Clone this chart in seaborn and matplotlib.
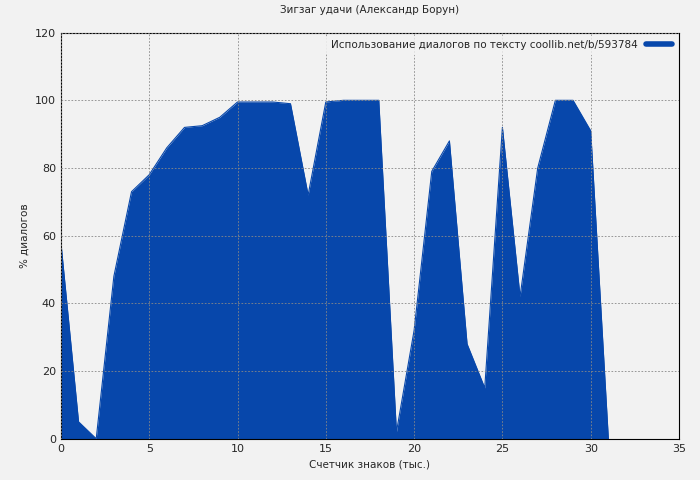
import matplotlib
matplotlib.use("Agg")
import matplotlib.pyplot as plt
import seaborn as sns
import pandas as pd

# ── data ──────────────────────────────────────────────
chars_k = list(range(32))
dialog_pct = [58, 5, 0, 48, 73, 78, 86, 92, 92.5, 95, 99.5, 99.5, 99.5, 99, 72,
              99.5, 100, 100, 100, 2, 32, 79, 88, 28, 15, 92, 42, 80, 100, 100, 91, 0]
x_ticks = [0, 5, 10, 15, 20, 25, 30, 35]
y_ticks = [0, 20, 40, 60, 80, 100, 120]

COLOR = "#0747ab"
BG = "#f2f2f2"

sns.set_style("white")
plt.rcParams["font.family"] = ["DejaVu Sans"]

df = pd.DataFrame({"x": chars_k, "y": dialog_pct})

fig, ax = plt.subplots(figsize=(7, 4.8), dpi=100)
fig.patch.set_facecolor(BG)
ax.set_facecolor(BG)

ax.fill_between(df["x"], df["y"], 0, color=COLOR, linewidth=0)
sns.lineplot(data=df, x="x", y="y", ax=ax, color=COLOR, linewidth=0.8)

ax.set_xlim(0, 35)
ax.set_ylim(0, 120)
ax.set_xticks(x_ticks)
ax.set_yticks(y_ticks)
ax.tick_params(labelsize=8, direction="in", length=4)
ax.grid(True, color="#888888", linestyle=(0, (2, 2)), linewidth=0.6)
ax.set_axisbelow(False)
for s in ax.spines.values():
    s.set_color("black")
    s.set_linewidth(0.8)

ax.set_title("Зигзаг удачи (Александр Борун)", fontsize=7.5, pad=14)
ax.set_xlabel("Счетчик знаков (тыс.)", fontsize=7.5)
ax.set_ylabel("% диалогов", fontsize=7.5)

from matplotlib.lines import Line2D
h = [Line2D([0], [0], color=COLOR, linewidth=4)]
leg = ax.legend(h, ["Использование диалогов по тексту coollib.net/b/593784"],
                loc="upper right", fontsize=7.5, frameon=True, markerfirst=False,
                handlelength=2.5, borderaxespad=0.3)
leg.get_frame().set_facecolor(BG)
leg.get_frame().set_edgecolor(BG)

plt.subplots_adjust(left=0.087, right=0.97, top=0.932, bottom=0.086)
fig.savefig("out.png", dpi=100, facecolor=BG)
